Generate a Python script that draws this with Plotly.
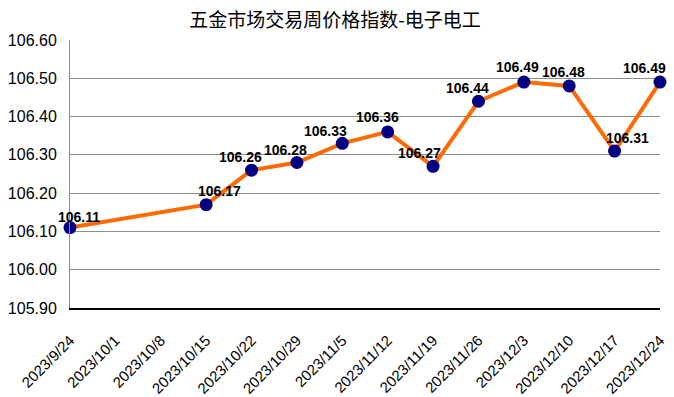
import plotly.graph_objects as go

title = "五金市场交易周价格指数-电子电工"
dates = ["2023-09-24", "2023-10-15", "2023-10-22", "2023-10-29", "2023-11-05",
         "2023-11-12", "2023-11-19", "2023-11-26", "2023-12-03", "2023-12-10",
         "2023-12-17", "2023-12-24"]
values = [106.11, 106.17, 106.26, 106.28, 106.33, 106.36, 106.27, 106.44,
          106.49, 106.48, 106.31, 106.49]
tick_dates = ["2023-09-24", "2023-10-01", "2023-10-08", "2023-10-15", "2023-10-22",
              "2023-10-29", "2023-11-05", "2023-11-12", "2023-11-19", "2023-11-26",
              "2023-12-03", "2023-12-10", "2023-12-17", "2023-12-24"]
tick_labels = ["2023/9/24", "2023/10/1", "2023/10/8", "2023/10/15", "2023/10/22",
               "2023/10/29", "2023/11/5", "2023/11/12", "2023/11/19", "2023/11/26",
               "2023/12/3", "2023/12/10", "2023/12/17", "2023/12/24"]
y_ticks = [105.90, 106.00, 106.10, 106.20, 106.30, 106.40, 106.50, 106.60]

# label placement offsets (pixels), style only
label_dx = [9, 13, -11, -11, -17, -10, -14, -11, -6, -6, 13, -15]
label_dy = [11, 14, 13, 13, 12, 15, 13, 13, 15, 14, 13, 14]

fig = go.Figure()
fig.add_trace(go.Scatter(
    x=dates, y=values, mode="lines+markers",
    line=dict(color="#FF6A00", width=4),
    marker=dict(color="#000080", size=13),
    cliponaxis=False, hoverinfo="x+y",
))

for d, v, dx, dy in zip(dates, values, label_dx, label_dy):
    fig.add_annotation(x=d, y=v, text=f"{v:.2f}", showarrow=False,
                       xshift=dx, yshift=dy,
                       font=dict(family="Liberation Sans, Arial", size=14, color="black", weight="bold"))

fig.update_layout(
    width=674, height=397,
    margin=dict(l=70, r=14, t=40, b=89),
    paper_bgcolor="white", plot_bgcolor="white",
    showlegend=False,
    title=dict(text=title, x=0.497, xanchor="center", y=0.95, yanchor="middle",
               font=dict(family="Noto Sans CJK SC", size=19, color="black")),
    font=dict(family="Liberation Sans, Arial", color="black"),
)
fig.update_xaxes(
    type="date", range=[dates[0], dates[-1] + " 00:05"],
    tickmode="array", tickvals=tick_dates, ticktext=tick_labels,
    tickangle=-45, tickfont=dict(size=15, color="black"),
    showgrid=False, showline=True, linecolor="black", linewidth=1.5,
    ticks="", zeroline=False, ticklabelstandoff=16, automargin=False,
)
fig.update_yaxes(
    range=[105.90, 106.60], tickmode="array", tickvals=y_ticks,
    ticktext=[f"{t:.2f}" for t in y_ticks],
    tickfont=dict(size=16, color="black"),
    showgrid=True, gridcolor="#8C8C8C", gridwidth=1,
    showline=True, linecolor="#8C8C8C", linewidth=1,
    ticks="", ticklabelstandoff=9, zeroline=False, automargin=False,
)

fig.write_html("out.html", config={"displayModeBar": False},
               post_script="document.body.style.margin='0';document.body.style.overflow='hidden';")
